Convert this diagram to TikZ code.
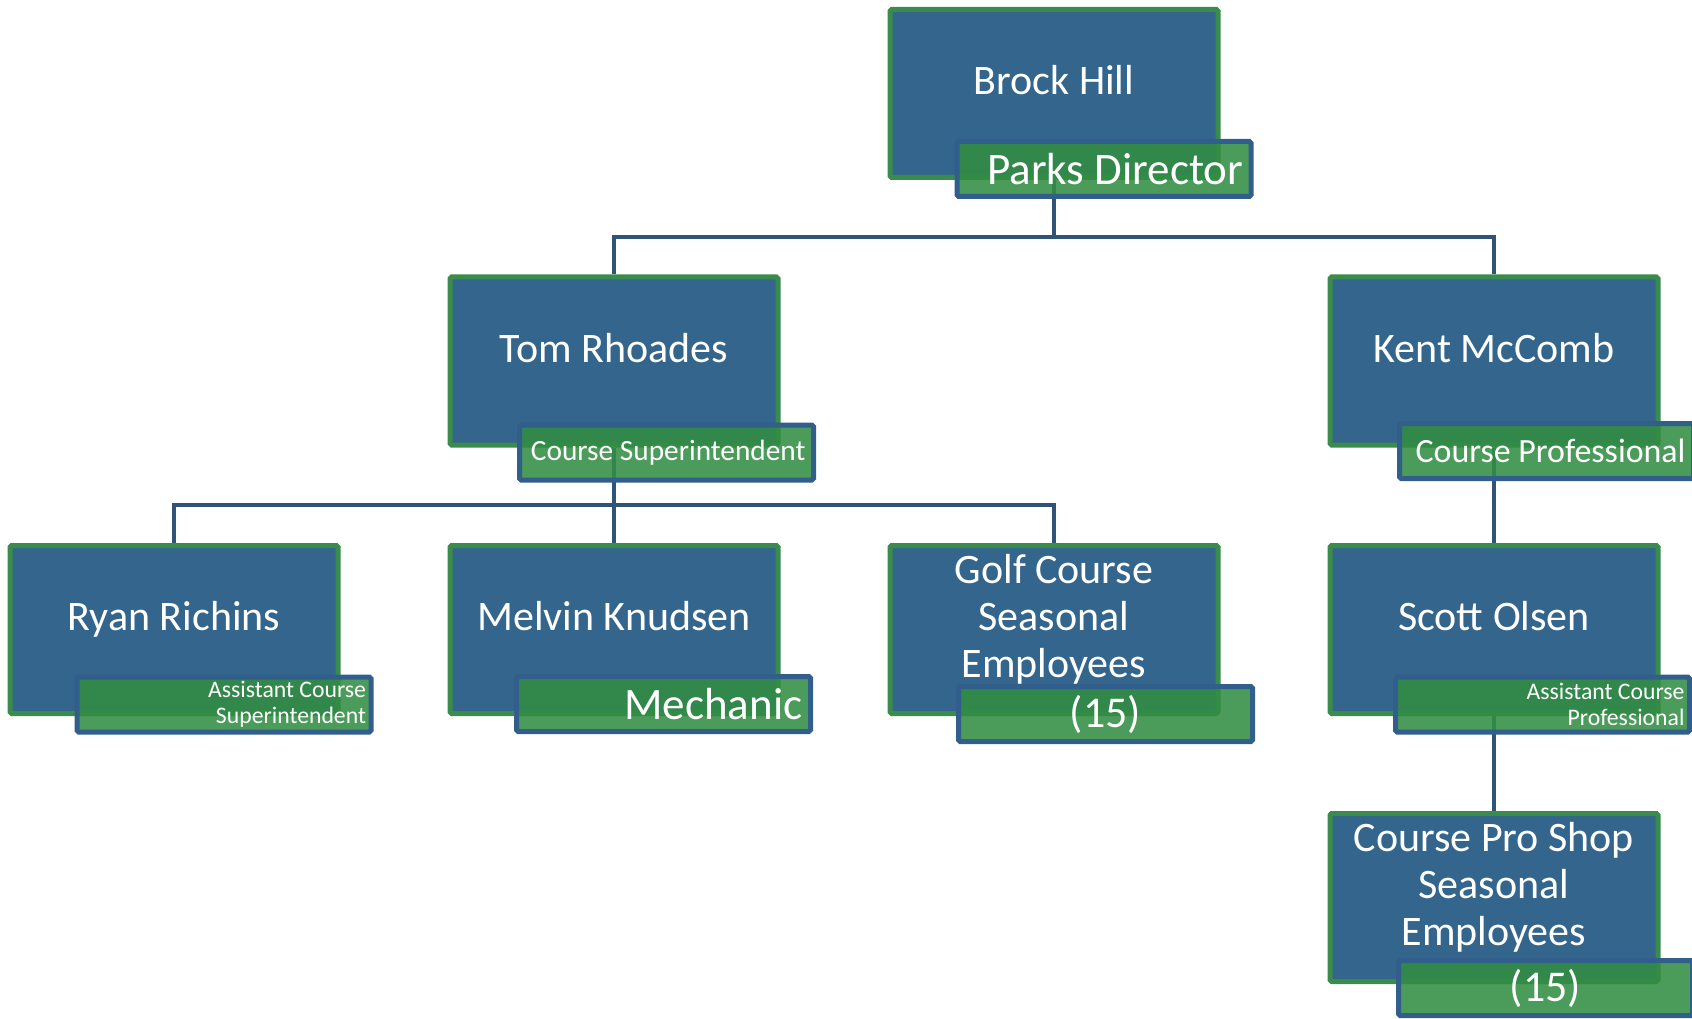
\documentclass[tikz,border=0pt]{standalone}
\usepackage{fontspec}
\setmainfont{Carlito}
\usetikzlibrary{backgrounds}
\definecolor{boxblue}{RGB}{51,101,141}
\definecolor{boxgreen}{RGB}{57,140,75}
\definecolor{rolegreen}{RGB}{50,141,67}
\definecolor{roleblue}{RGB}{49,94,138}
\definecolor{linkblue}{RGB}{47,84,120}
\newlength\pixel
\setlength\pixel{0.2mm}

\begin{document}
\begin{tikzpicture}[x=0.2mm, y=-0.2mm,
    person/.style={draw=boxgreen, line width=5\pixel, fill=boxblue, minimum width=328\pixel, minimum height=168\pixel, inner sep=0pt, rounded corners=1pt},
    personname/.style={text=white, font=\fontsize{23.9}{26.7}\selectfont, align=center, inner sep=0pt},
    role/.style={draw=roleblue, line width=5\pixel, fill=rolegreen, fill opacity=0.88, text opacity=1, text=white, minimum width=294\pixel, minimum height=55\pixel, inner sep=0pt, text width=278\pixel, align=flush right, rounded corners=1pt},
    link/.style={draw=linkblue, line width=4.5\pixel}]
    \useasboundingbox (0,0) rectangle (1692,1019);
    \clip (0,0) rectangle (1692,1019);
    % boxes
    \node[person] (brock) at (1054,93.5) {};
    \node[person] (tom) at (614,361) {};
    \node[person] (kent) at (1494,361) {};
    \node[person] (ryan) at (174,629.5) {};
    \node[person] (melvin) at (614,629.5) {};
    \node[person] (golf) at (1054,629.5) {};
    \node[person] (scott) at (1494,629.5) {};
    \node[person] (shop) at (1494,897.5) {};
    % names
    \node[personname, anchor=base] (brockname) at (1054,95) {Brock Hill};
    \node[personname, anchor=base] (tomname) at (614,362) {Tom Rhoades};
    \node[personname, anchor=base] (kentname) at (1494,362) {Kent McComb};
    \node[personname, anchor=base] (ryanname) at (174,630) {Ryan Richins};
    \node[personname, anchor=base] (melvinname) at (614,630) {Melvin Knudsen};
    \node[personname] (golfname) at (1054,619.5) {Golf Course\\Seasonal\\Employees};
    \node[personname, anchor=base] (scottname) at (1494,630) {Scott Olsen};
    \node[personname] (shopname) at (1494,887.5) {Course Pro Shop\\Seasonal\\Employees};
    % titles
    \node[role, font=\fontsize{25.6}{28}\selectfont] (brockrole) at (1104,169) {Parks Director};
    \node[role, font=\fontsize{16.7}{19}\selectfont] (tomrole) at (666.5,452.5) {Course Superintendent};
    \node[role, font=\fontsize{19.3}{22}\selectfont] (kentrole) at (1546.5,451) {Course Professional};
    \node[role, font=\fontsize{13.5}{14.8}\selectfont, text width=284\pixel] (ryanrole) at (224,704.5) {Assistant Course\\Superintendent};
    \node[role, font=\fontsize{25.6}{28}\selectfont] (melvinrole) at (663.5,704) {Mechanic};
    \node[role, font=\fontsize{25}{28}\selectfont, align=center] (golfrole) at (1105.5,714) {(15)};
    \node[role, font=\fontsize{13.5}{14.8}\selectfont, text width=284\pixel] (scottrole) at (1542.5,704.5) {Assistant Course\\Professional};
    \node[role, font=\fontsize{25}{28}\selectfont, align=center] (shoprole) at (1545.5,988) {(15)};
    % connectors
    \coordinate (topbar) at (1054,237);
    \coordinate (tombar) at (614,505);
    \begin{scope}[on background layer]
        \draw[link] (brock.south) -- (topbar) -| (tom.north);
        \draw[link] (topbar) -| (kent.north);
        \draw[link] (tom.south) -- (tombar) -| (ryan.north);
        \draw[link] (tombar) -| (golf.north);
        \draw[link] (tombar) -- (melvin.north);
        \draw[link] (kent.south) -- (scott.north);
        \draw[link] (scott.south) -- (shop.north);
    \end{scope}
\end{tikzpicture}
\end{document}
